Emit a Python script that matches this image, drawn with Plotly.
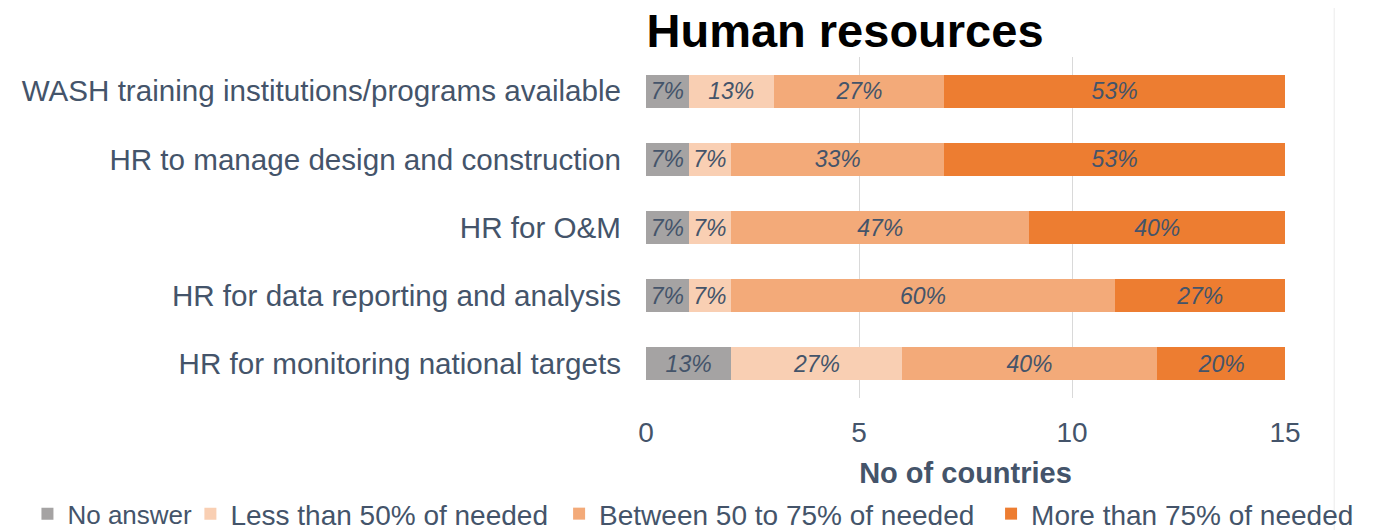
import plotly.graph_objects as go

# categories, top to bottom
categories = [
    "WASH training institutions/programs available",
    "HR to manage design and construction",
    "HR for O&M",
    "HR for data reporting and analysis",
    "HR for monitoring national targets",
]
series_names = [
    "No answer",
    "Less than 50% of needed",
    "Between 50 to 75% of needed",
    "More than 75% of needed",
]
# number of countries per category (15 countries in total)
no_answer = [1, 1, 1, 1, 2]
less_50 = [2, 1, 1, 1, 4]
between_50_75 = [4, 5, 7, 9, 6]
more_75 = [8, 8, 6, 4, 3]
total_countries = 15

colors = ["#A5A3A3", "#F9CFB3", "#F3AA79", "#ED7D31"]
text_color = "#44546A"
font_family = "Liberation Sans, Arial, sans-serif"

# one legend per series so each entry sits where the original puts it
legend_ids = ["legend", "legend2", "legend3", "legend4"]
legend_x = [-0.968, -0.713, -0.136, 0.540]
legend_size = [26, 28, 28, 28]

fig = go.Figure()
for name, vals, col, lg in zip(series_names, [no_answer, less_50, between_50_75, more_75], colors, legend_ids):
    pct = [f"{round(v / total_countries * 100)}%" for v in vals]
    fig.add_trace(
        go.Bar(
            y=categories,
            x=vals,
            name=name,
            orientation="h",
            marker=dict(color=col, line=dict(width=0)),
            text=pct,
            textposition="inside",
            insidetextanchor="middle",
            textfont=dict(size=23, color=text_color, family=font_family, style="italic"),
            constraintext="none",
            hoverinfo="skip",
            legend=lg,
            showlegend=True,
        )
    )


def legend_style(x, size):
    return dict(
        orientation="h",
        x=x, xanchor="left",
        y=-0.34, yanchor="middle",
        font=dict(size=size, color=text_color),
        itemwidth=30,
        bgcolor="rgba(0,0,0,0)",
    )


fig.update_layout(
    barmode="stack",
    bargap=0.515,
    width=1389,
    height=522,
    margin=dict(l=638, r=112, t=49, b=132, autoexpand=False),
    plot_bgcolor="white",
    paper_bgcolor="white",
    font=dict(family=font_family, color=text_color),
    uniformtext=dict(minsize=23, mode="show"),
    showlegend=True,
    title=dict(
        text="<b>Human resources</b>",
        x=0.6026, xanchor="center", xref="container",
        y=0.956, yanchor="middle", yref="container",
        font=dict(size=47, color="black", family=font_family),
    ),
    xaxis=dict(
        range=[0, 15],
        tickvals=[0, 5, 10, 15],
        showgrid=True,
        gridcolor="#D9D9D9",
        gridwidth=1,
        zeroline=False,
        showline=False,
        tickfont=dict(size=28, color=text_color),
        ticklabelstandoff=15,
        title=dict(text="<b>No of countries</b>", font=dict(size=29, color=text_color), standoff=15),
    ),
    yaxis=dict(
        categoryorder="array",
        categoryarray=categories[::-1],
        showgrid=False,
        tickfont=dict(size=29.6, color=text_color),
        ticklabelstandoff=24,
    ),
    legend=legend_style(legend_x[0], legend_size[0]),
    legend2=legend_style(legend_x[1], legend_size[1]),
    legend3=legend_style(legend_x[2], legend_size[2]),
    legend4=legend_style(legend_x[3], legend_size[3]),
    shapes=[
        dict(type="line", xref="paper", yref="paper", x0=1.077, x1=1.077, y0=-0.39, y1=1.15,
             line=dict(color="#EBEBEB", width=1)),
    ],
)

fig.write_html("out.html")
